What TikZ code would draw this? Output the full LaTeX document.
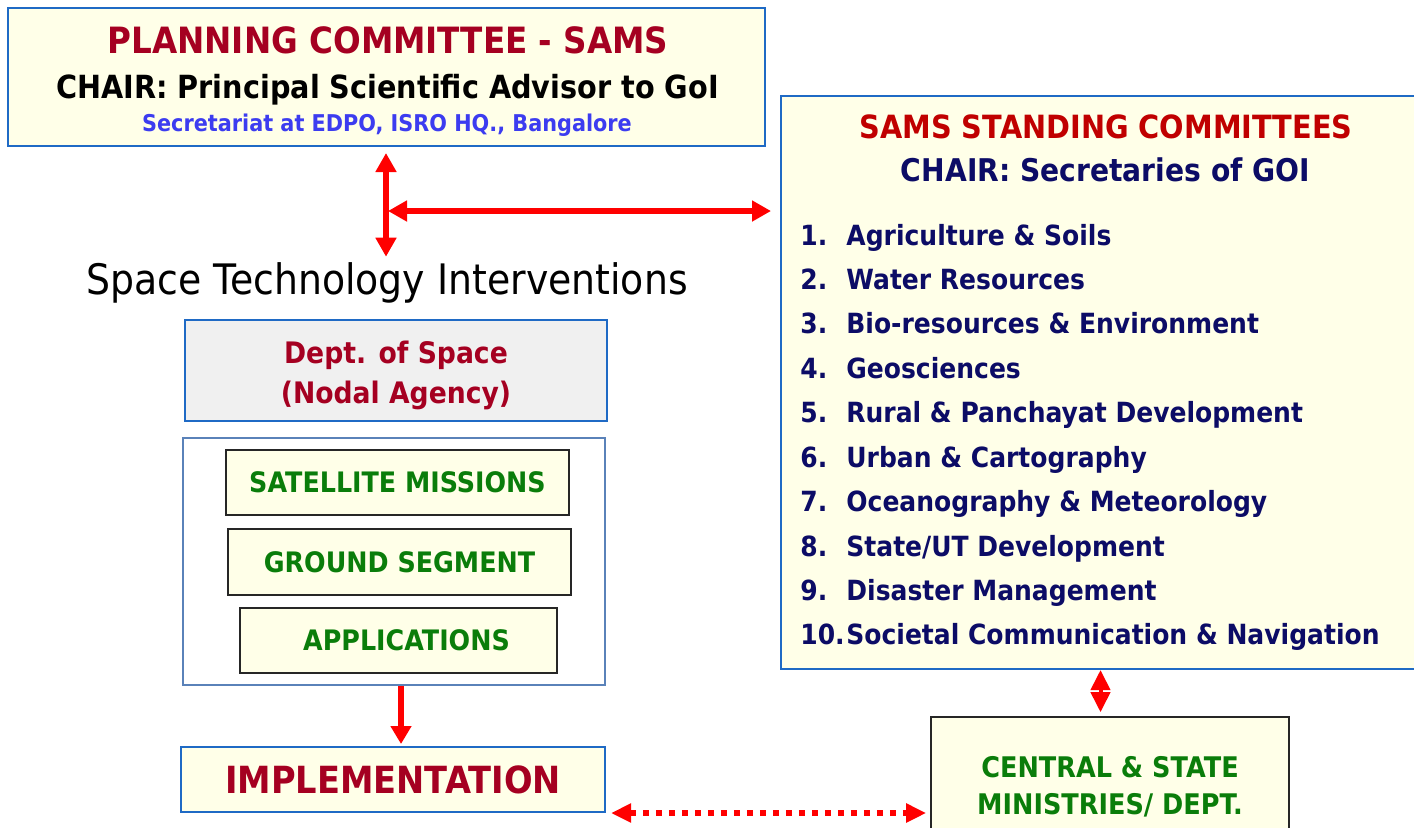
\documentclass[tikz,border=0pt]{standalone}
\usepackage{fontspec}
\setmainfont[FakeStretch=0.9]{DejaVu Sans}
\usetikzlibrary{arrows.meta}
\definecolor{boxblue}{RGB}{31,106,197}
\definecolor{paleblue}{RGB}{90,130,185}
\definecolor{cream}{RGB}{255,255,232}
\definecolor{paper}{RGB}{240,240,240}
\definecolor{wine}{RGB}{165,0,33}
\definecolor{samsred}{RGB}{192,0,0}
\definecolor{navy}{RGB}{12,12,102}
\definecolor{secblue}{RGB}{60,60,240}
\definecolor{leaf}{RGB}{10,125,10}
\definecolor{arrowred}{RGB}{255,0,0}
\tikzset{
  bluebox/.style={draw=boxblue, line width=1pt, fill=cream, inner sep=0pt},
  greybox/.style={draw=boxblue, line width=1pt, fill=paper, inner sep=0pt},
  holder/.style={draw=paleblue, line width=0.8pt, fill=white, inner sep=0pt},
  taskbox/.style={draw=black!85, line width=0.8pt, fill=cream, inner sep=0pt, text=leaf, font=\bfseries\fontsize{14.1}{16}\selectfont},
  blackbox/.style={draw=black!85, line width=0.8pt, fill=cream, align=center, inner sep=0pt},
  txt/.style={inner sep=0pt, anchor=base},
  itemtext/.style={inner sep=0pt, anchor=base west, text=navy, font=\bfseries\fontsize{13.9}{16}\selectfont},
  dblarrow/.style={{Triangle[length=9.5pt,width=10pt]}-{Triangle[length=9.5pt,width=10pt]}, line width=3pt, draw=arrowred},
  downarrow/.style={-{Triangle[length=9pt,width=10pt]}, line width=3pt, draw=arrowred},
  thinarrow/.style={{Triangle[length=10pt,width=9.5pt]}-{Triangle[length=10pt,width=9.5pt]}, line width=2pt, draw=arrowred},
  dotarrow/.style={{Triangle[length=10pt,width=9pt]}-{Triangle[length=10pt,width=9pt]}, line width=3pt, draw=arrowred, dash pattern=on 3pt off 3.5pt}
}

\begin{document}
\begin{tikzpicture}[x=0.5pt, y=-0.5pt]
  \clip (0,0) rectangle (1414,827);

  % boxes
  \node[bluebox, minimum width=378.5pt, minimum height=69pt] (plan) at (386.5,77) {};
  \node[bluebox, minimum width=319.5pt, minimum height=286.5pt] (sams) at (1100.5,382.5) {};
  \node[greybox, minimum width=211pt, minimum height=50.5pt] (dept) at (396,370.5) {};
  \node[holder, minimum width=211pt, minimum height=123.5pt] (tasks) at (394,561.5) {};
  \node[taskbox, minimum width=171.5pt, minimum height=32.5pt] (sat) at (397.5,482.5) {SATELLITE MISSIONS};
  \node[taskbox, minimum width=171.5pt, minimum height=33pt] (gnd) at (399.5,562) {GROUND SEGMENT};
  \node[taskbox, minimum width=158.5pt, minimum height=32.5pt] (app) at (398.5,640.5) {\hspace*{8pt}APPLICATIONS};
  \node[bluebox, text=wine, font=\bfseries\fontsize{18.7}{22}\selectfont, minimum width=212pt, minimum height=32.5pt] (impl) at (393,779.5) {IMPLEMENTATION};
  \node[blackbox, text=leaf, font=\bfseries\fontsize{14.2}{18.5}\selectfont, minimum width=179pt, minimum height=70pt] (central) at (1110,787) {CENTRAL \& STATE\\MINISTRIES/ DEPT.};

  % texts
  \node[txt, text=wine, font=\bfseries\fontsize{18.1}{21}\selectfont] (plant) at (388,53) {PLANNING COMMITTEE - SAMS};
  \node[txt, font=\bfseries\fontsize{15.95}{19}\selectfont] (planc) at (387.5,98) {CHAIR: Principal Scientific Advisor to GoI};
  \node[txt, text=secblue, font=\bfseries\fontsize{11.55}{14}\selectfont] (plans) at (387,131) {Secretariat at EDPO, ISRO HQ., Bangalore};
  \node[txt, font=\fontsize{21}{25}\selectfont] (sti) at (387,294) {Space Technology Interventions};
  \node[inner sep=0pt, align=center, text=wine, font=\bfseries\fontsize{14.8}{20}\selectfont] (deptt) at (396,375) {Dept. of Space\\(Nodal Agency)};
  \node[txt, text=samsred, font=\bfseries\fontsize{16}{19}\selectfont] (samst) at (1106,138) {SAMS STANDING COMMITTEES};
  \node[txt, text=navy, font=\bfseries\fontsize{15.65}{19}\selectfont] (samsc) at (1105.5,181) {CHAIR: Secretaries of GOI};
  \foreach \txt [count=\i] in {Agriculture \& Soils, Water Resources, Bio-resources \& Environment, Geosciences, Rural \& Panchayat Development, Urban \& Cartography, Oceanography \& Meteorology, State/UT Development, Disaster Management, Societal Communication \& Navigation}
  {
    \node[itemtext] (num\i) at (800,{245+44.44*(\i-1)}) {\i.};
    \node[itemtext] (item\i) at (846,{245+44.44*(\i-1)}) {\txt};
  }

  % links
  \coordinate (jn) at (386,211);
  \draw[dblarrow, shorten <=3pt, shorten >=2.5pt] (plan.south -| jn) -- (sti.north -| jn);
  \draw[dblarrow, shorten <=1pt, shorten >=4.5pt] (jn) -- (jn -| sams.west);
  \draw[downarrow, shorten >=1pt] ([xshift=3.5pt]tasks.south) -- ([xshift=3.5pt]tasks.south |- impl.north);
  \draw[dotarrow, shorten <=2.5pt, shorten >=2pt] (impl.south east) -- (impl.south east -| central.west);
  \draw[thinarrow, shorten >=2pt] (sams.south) -- (sams.south |- central.north);
\end{tikzpicture}
\end{document}
